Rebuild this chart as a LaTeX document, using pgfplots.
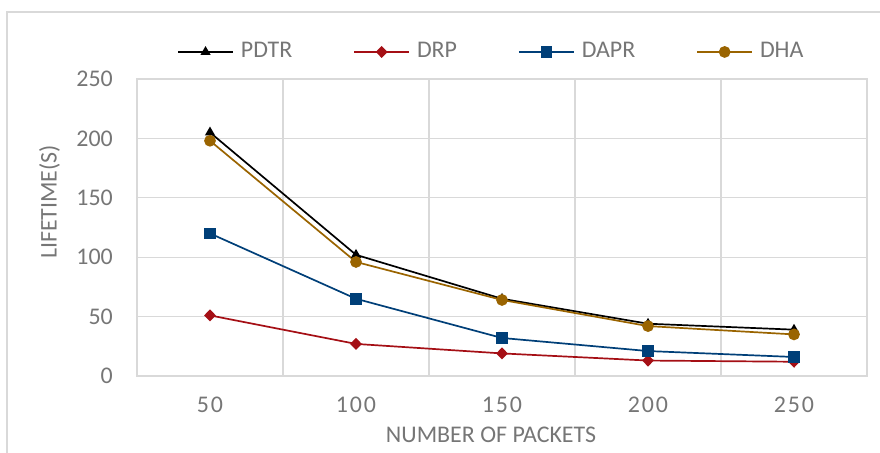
\documentclass[border=0pt]{standalone}
\usepackage{fontspec}
\setmainfont{Carlito}
\newfontfamily\spaced[LetterSpace=8]{Carlito}
\usepackage{pgfplots}
\pgfplotsset{compat=1.18}
\definecolor{txt}{HTML}{767676}
\definecolor{grd}{HTML}{D9D9D9}
\definecolor{cPDTR}{HTML}{000000}
\definecolor{cDRP}{HTML}{A50F15}
\definecolor{cDAPR}{HTML}{003F78}
\definecolor{cDHA}{HTML}{9A6400}
\begin{document}
\fontsize{24}{28}\selectfont
\begin{tikzpicture}[x=1bp,y=1bp]
\useasboundingbox (-137,-77) rectangle (743,376);
\draw[grd, line width=1.3bp] (-130,-77) -- (-130,364) -- (743,364);
\begin{axis}[
  anchor=south west,
  scale only axis, width=730bp, height=297bp,
  xmin=0.5, xmax=5.5, ymin=0, ymax=250,
  xtick={1,2,3,4,5},
  xticklabels={50,100,150,200,250},
  minor xtick={1.5,2.5,3.5,4.5},
  ytick={0,50,100,150,200,250},
  xminorgrids=true, ymajorgrids=true, xmajorgrids=false,
  grid style={grd, line width=1.3bp},
  minor grid style={grd, line width=1.3bp},
  axis line style={grd, line width=1.3bp},
  major tick length=0pt, minor tick length=0pt,
  tick style={draw=none},
  tick label style={font=\fontsize{24}{28}\selectfont, text=txt},
  /pgf/number format/assume math mode=true,
  xticklabel style={font=\spaced\fontsize{24}{28}\selectfont, anchor=north, inner sep=0pt, yshift=-21bp},
  yticklabel style={anchor=east, inner sep=0pt, xshift=-24bp},
  xlabel={NUMBER OF PACKETS},
  ylabel={LIFETIME(S)},
  label style={font=\fontsize{24}{28}\selectfont, text=txt},
  xlabel style={at={(axis description cs:0.485,0)}, anchor=north, inner sep=0pt, yshift=-51bp},
  ylabel style={at={(axis description cs:-0.1342,0.586)}, anchor=north, inner sep=0pt},
  legend columns=4,
  legend style={at={(axis description cs:0.0548,1.091)}, anchor=west, draw=none, fill=none,
    inner sep=0pt, font=\fontsize{24}{28}\selectfont, text=txt,
    /tikz/every even column/.append style={column sep=61bp},
    nodes={inner xsep=0pt, inner ysep=1bp}},
  legend image code/.code={\draw[mark repeat=2, mark phase=2, #1] plot coordinates {(0bp,0bp) (27.5bp,0bp) (55bp,0bp)};},
  legend cell align=left,
  every axis plot/.append style={line width=1.7bp},
]
\addplot[cPDTR, mark=triangle*, mark size=4.2bp, mark options={solid}] coordinates {(1,205) (2,102) (3,65) (4,44) (5,39)};
\addlegendentry{\hspace{7bp}PDTR}
\addplot[cDRP, mark=diamond*, mark size=4.8bp, mark options={solid, xscale=1.3}] coordinates {(1,51) (2,27) (3,19) (4,13) (5,12)};
\addlegendentry{\hspace{7bp}DRP}
\addplot[cDAPR, mark=square*, mark size=5bp] coordinates {(1,120) (2,65) (3,32) (4,21) (5,16)};
\addlegendentry{\hspace{7bp}DAPR}
\addplot[cDHA, mark=*, mark size=5bp] coordinates {(1,198) (2,96) (3,64) (4,42) (5,35)};
\addlegendentry{\hspace{7bp}DHA}
\end{axis}
\end{tikzpicture}
\end{document}
